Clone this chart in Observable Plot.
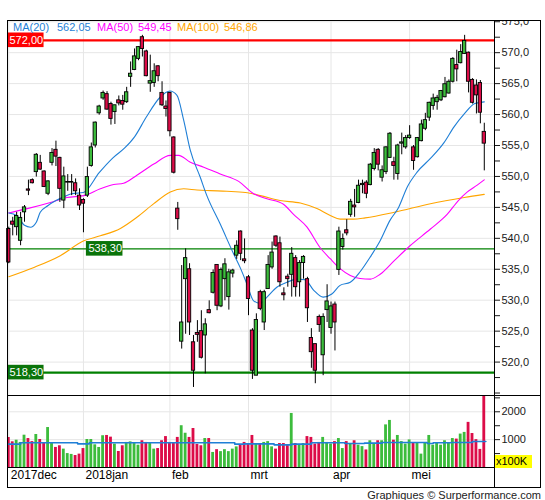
<!DOCTYPE html>
<html><head><meta charset="utf-8">
<script src="https://cdn.jsdelivr.net/npm/d3@7"></script>
<script src="https://cdn.jsdelivr.net/npm/@observablehq/plot@0.6"></script>
<style>
body{margin:0;background:#fff;}
#wrap{position:relative;width:545px;height:500px;overflow:hidden;font-family:"Liberation Sans",Arial,sans-serif;background:#fff;}
#wrap svg{position:absolute;left:0;}
.abs{position:absolute;}
</style></head><body><div id="wrap"></div>
<script>
// ---- data ----
const opens = [541.5,542.7,541.8,539.6,544.2,547.9,549.4,550.7,552.2,550.8,547.2,552.2,554.3,553.0,546.1,549.0,549.0,548.9,546.9,546.2,
546.9,551.7,555.0,560.2,562.6,563.3,561.7,560.4,562.3,562.2,562.0,566.1,567.2,569.0,572.5,570.2,565.0,565.1,567.8,563.5,
561.3,563.5,556.3,544.8,523.3,533.4,535.0,523.2,524.7,525.0,524.3,528.4,531.2,535.7,529.0,533.4,530.5,534.3,537.2,541.1,
536.6,533.7,525.1,517.8,531.3,526.4,531.8,535.3,540.3,539.2,531.1,533.8,534.1,536.8,532.9,536.0,533.4,523.9,522.9,527.3,
521.1,528.4,525.5,529.3,534.9,538.6,541.3,543.8,545.3,545.7,548.6,549.0,548.6,551.2,554.3,549.8,550.7,553.0,552.3,550.4,
555.3,554.7,556.2,554.7,553.1,555.7,557.7,559.5,561.4,562.0,562.3,562.8,563.4,565.3,568.0,568.3,569.8,570.0,565.6,564.7,
565.1,557.2];
const highs = [541.8,543.4,544.2,544.2,545.3,549.4,549.6,553.7,553.4,550.9,549.3,554.5,555.7,553.1,551.5,550.3,550.3,549.6,548.0,546.4,
551.5,555.4,558.8,561.5,563.8,563.7,562.0,561.5,563.0,563.1,564.4,568.5,570.6,571.0,572.8,570.4,569.6,568.2,567.9,565.3,
562.2,563.6,556.4,545.8,535.6,538.3,535.9,524.3,526.7,528.3,527.0,529.9,534.9,535.7,535.2,536.7,535.0,535.0,539.6,541.2,
539.9,534.0,525.4,527.8,531.6,531.6,537.2,539.4,540.4,540.2,532.0,534.2,538.5,537.2,536.4,537.2,533.7,525.4,522.9,527.6,
527.8,532.5,529.7,529.7,541.8,540.7,543.0,546.3,547.9,549.4,549.4,549.3,552.1,554.5,554.5,551.7,554.8,557.1,553.1,555.2,
557.0,556.6,558.2,555.0,556.3,559.1,560.2,562.0,563.3,563.1,563.9,566.0,565.6,569.2,570.4,571.3,572.8,570.1,565.8,565.6,
565.5,558.6];
const lows = [535.9,540.4,540.4,538.8,542.6,546.9,548.8,549.9,551.0,548.2,546.9,551.7,551.6,545.8,544.8,547.6,546.9,546.9,544.5,540.9,
546.6,551.5,554.6,559.9,562.3,560.7,558.3,558.4,561.4,560.7,561.8,564.4,567.1,568.7,569.3,566.1,563.6,564.4,565.3,561.3,
559.6,556.4,550.4,541.3,522.1,524.5,524.3,515.9,523.2,520.5,518.1,527.8,531.0,528.3,528.8,529.9,528.4,533.6,536.6,536.4,
535.9,527.5,517.2,517.8,528.3,525.1,531.8,535.0,538.5,532.1,529.9,532.1,530.5,530.5,530.5,533.4,526.4,519.0,516.5,524.8,
517.8,526.4,524.5,521.8,534.0,538.1,540.4,543.4,543.4,545.6,547.2,546.4,548.5,550.9,550.9,549.1,550.3,552.9,549.4,549.4,
553.5,554.4,556.0,551.0,553.0,555.6,557.4,558.9,560.7,560.7,562.1,562.7,563.3,565.1,565.3,568.2,569.7,563.5,561.7,560.1,
558.5,550.9];
const closes = [536.1,542.2,543.6,543.3,545.0,547.7,548.9,553.5,551.1,548.3,549.2,553.8,553.2,548.0,550.0,549.1,549.1,547.6,545.3,545.6,
549.9,554.7,558.7,561.3,563.5,560.8,559.3,561.5,561.8,561.6,563.6,566.6,569.4,570.9,570.6,566.2,565.4,567.0,566.2,561.5,
560.9,557.3,550.6,543.1,526.4,536.8,526.4,518.6,524.4,520.7,526.1,527.9,534.4,529.1,534.9,535.8,534.5,534.8,538.8,537.5,
536.3,530.2,518.6,526.8,528.6,531.3,535.7,537.7,538.8,532.9,530.8,533.4,537.5,532.1,536.0,537.0,528.7,521.6,518.6,526.0,
527.3,529.8,529.0,526.4,541.1,539.9,540.8,545.9,545.0,548.5,548.8,547.2,551.9,553.8,551.9,551.0,554.7,556.9,551.7,555.0,
555.5,556.2,556.6,552.5,556.2,558.4,559.1,561.9,562.6,562.7,563.8,564.9,565.3,569.0,567.3,570.1,571.9,565.3,561.9,563.1,
560.3,555.3];
const volumes = [1077,922,980,900,1160,1040,930,1185,1005,875,1435,860,720,780,660,500,470,430,480,680,
1005,1005,815,720,1140,1150,1090,840,575,780,900,920,860,800,960,900,860,660,680,960,
1110,900,880,1080,1500,1230,1080,1400,830,780,1040,1040,540,640,570,640,570,660,740,800,
900,840,1150,840,840,900,930,740,660,860,860,800,1940,860,800,860,1110,1080,840,900,
1080,900,840,930,1040,680,930,840,960,800,750,630,960,840,960,960,1530,1690,980,1150,
930,840,990,870,870,480,870,1150,800,870,800,960,870,1040,1020,1200,1260,1620,1220,1000,
650,2600];
// moving averages: [bar index, value]
const ma20 = [[0,544.1],[2,543.7],[4,542.1],[5.5,541.8],[7,542.6],[8,544.2],[10,545.3],[12,546.1],[14,546.7],[16,547.2],[19,547.4],
[23,550.6],[26.5,553.0],[29.5,554.6],[32,556.4],[35,559.6],[38.5,562.8],[41,563.8],[42.8,563.1],[44.5,559.1],[46.2,554.2],
[48.7,549.9],[50.4,546.9],[53.8,542.3],[57.2,537.5],[59,535.1],[60.6,532.6],[62.3,529.9],[64,529.5],[65.7,530.5],[68.2,532.1],
[70.8,532.9],[73.3,533.4],[75.4,533.3],[77.6,531.6],[80,530.5],[82.2,531.0],[84.3,532.4],[86.9,532.9],[89.4,534.6],[92,537.0],
[94.5,539.6],[97,542.9],[99.2,545.0],[101.4,548.3],[103.9,550.7],[107.3,552.9],[110.8,555.5],[113.3,558.0],[115.9,560.1],
[118.6,561.8],[121,562.05]];
const ma50 = [[0,544.1],[4.7,544.8],[10.6,545.8],[14.8,546.6],[19.1,546.9],[23.3,548.0],[26.7,548.7],[29.2,548.9],[32.6,550.2],
[36.9,552.0],[41.1,553.4],[43.2,553.4],[46.2,552.3],[49.6,551.5],[53.8,550.4],[58.5,549.2],[62.3,547.2],[65.7,546.4],[69.9,545.5],
[72.4,543.9],[75.9,541.8],[79.1,538.6],[81.8,536.7],[84.3,535.1],[86.9,534.0],[89.4,533.5],[92,533.4],[94.5,534.2],[98.1,536.4],
[102.1,538.8],[107.3,541.5],[111.6,543.9],[114.4,546.1],[116.7,547.5],[119.2,548.6],[121,549.45]];
const ma100 = [[0,533.8],[6.4,535.3],[13.1,537.2],[19.1,539.6],[23.3,540.4],[28.4,541.6],[32.6,543.4],[36.9,545.6],[41.1,547.5],
[44.5,548.0],[47.9,547.8],[51.3,547.7],[55.5,547.6],[60.2,547.4],[64,546.9],[69,546.1],[74.2,545.7],[78.4,544.8],[81.8,543.7],
[84.3,543.1],[87.7,543.1],[90.7,543.3],[98.1,544.2],[107.3,545.6],[115.9,546.6],[121,547.1]];
const volMA = [[0,838],[3,886],[17.5,850],[20.5,886],[57.5,838],[60,850],[67.5,814],[72,838],[77,886],[85.5,862],[90.5,874],
[95,898],[106.5,862],[108,886],[112.5,898],[118,934],[121.4,934]];
const monthTickIdx = [0,19,41,61,82,102];
const monthLabels = ["2017dec","2018jan","feb","mrt","apr","mei"];
const levelValues = [572, 538.3, 518.3];
const levelLabels = ["572,00","538,30","518,30"];
const levelLabelIdx = [-0.33, 19.75, -0.33];
const maNames = ["MA(20)","MA(50)","MA(100)"];
const maLast = ["562,05","549,45","546,86"];
const priceTicks = [520,525,530,535,540,545,550,555,560,565,570,575];
const priceMinorTicks = [515,517.5,522.5,527.5,532.5,537.5,542.5,547.5,552.5,557.5,562.5,567.5,572.5];
const volTicks = [1000,2000];
const volMinorTicks = [500,1500,2500];

// ---- styles ----
const GREEN = "#3cbc3c", RED = "#dc0c48";
const MA_COLORS = ["#1f7fd6","#ff00ff","#ffa500"];
const levelStyle = [{stroke:"#ff0000", box:"#ff0000", w:2.2},{stroke:"#008000", box:"#0a740a", w:1.3},{stroke:"#008000", box:"#0a740a", w:2.2}];

const candles = opens.map((o,i)=>({i, o, h:highs[i], l:lows[i], c:closes[i], v:volumes[i], up: closes[i] >= o}));
const levels = levelValues.map((v,k)=>({v, label:levelLabels[k], at:levelLabelIdx[k], ...levelStyle[k]}));
const xDomain = [-0.33, 123.6];
const fmt1 = d => d.toFixed(1).replace(".", ",");
const GRID = "#e6e6e6";
const wrap = document.getElementById("wrap");

const price = Plot.plot({
  width: 545, height: 375, marginTop: 0, marginBottom: 0, marginLeft: 7, marginRight: 51,
  x: {domain: xDomain, axis: null},
  y: {domain: [514.6, 575.2]},
  style: {overflow: "hidden", background: "transparent", fontFamily: "Liberation Sans, Arial, sans-serif", fontSize: "11px"},
  marks: [
    Plot.gridY(priceTicks, {stroke: GRID, strokeOpacity: 1}),
    Plot.gridX(monthTickIdx, {stroke: GRID, strokeOpacity: 1}),
    Plot.ruleY(levels, {y: "v", stroke: "stroke", strokeWidth: d => d.w}),
    Plot.line(ma100, {x: d => d[0], y: d => d[1], stroke: MA_COLORS[2], strokeWidth: 1.1, curve: "monotone-x"}),
    Plot.line(ma50, {x: d => d[0], y: d => d[1], stroke: MA_COLORS[1], strokeWidth: 1.1, curve: "monotone-x"}),
    Plot.line(ma20, {x: d => d[0], y: d => d[1], stroke: MA_COLORS[0], strokeWidth: 1.1, curve: "monotone-x"}),
    Plot.ruleX(candles, {x: "i", y1: "l", y2: "h", stroke: "#000", strokeWidth: 1}),
    Plot.rect(candles, {x1: d => d.i - 0.42, x2: d => d.i + 0.42, y1: "o", y2: "c", fill: d => d.up ? GREEN : RED, stroke: "#000", strokeWidth: 0.9}),
    Plot.rect(levels, {x1: "at", x2: d => d.at + 9.3, y1: d => d.v - 1.18, y2: d => d.v + 1.18, fill: "box"}),
    Plot.text(levels, {x: "at", y: "v", text: "label", fill: "#fff", textAnchor: "start", dx: 2, fontSize: 11}),
    Plot.axisY(priceTicks, {anchor: "right", tickSize: 5, tickPadding: 2, tickFormat: fmt1, color: "#1a1a1a", label: null}),
    Plot.axisY(priceMinorTicks, {anchor: "right", tickSize: 5, tickFormat: () => "", color: "#1a1a1a", label: null}),
    Plot.frame({stroke: "#000"})
  ]
});
price.style.top = "20px";
wrap.appendChild(price);

const vol = Plot.plot({
  width: 545, height: 92, marginTop: 0, marginBottom: 20, marginLeft: 7, marginRight: 51,
  x: {domain: xDomain},
  y: {domain: [0, 2585]},
  style: {overflow: "hidden", background: "transparent", fontFamily: "Liberation Sans, Arial, sans-serif", fontSize: "11px"},
  marks: [
    Plot.gridY(volTicks, {stroke: GRID, strokeOpacity: 1}),
    Plot.gridX(monthTickIdx, {stroke: GRID, strokeOpacity: 1}),
    Plot.rect(candles, {x1: d => d.i - 0.36, x2: d => d.i + 0.36, y1: 0, y2: "v", fill: d => d.up ? GREEN : RED, clip: true}),
    Plot.line(volMA, {x: d => d[0], y: d => d[1], stroke: "#1f7fd6", strokeWidth: 1.6, curve: "step-after"}),
    Plot.axisY(volTicks, {anchor: "right", tickSize: 5, tickPadding: 2, tickFormat: d => String(d), color: "#1a1a1a", label: null}),
    Plot.axisY(volMinorTicks, {anchor: "right", tickSize: 5, tickFormat: () => "", color: "#1a1a1a", label: null}),
    Plot.axisX(monthTickIdx, {anchor: "bottom", tickSize: 0, tickPadding: 3, textAnchor: "start", dx: 2, fontSize: 12, color: "#000",
      tickFormat: d => monthLabels[monthTickIdx.indexOf(d)], label: null}),
    Plot.frame({stroke: "#000"})
  ]
});
vol.style.top = "395px";
wrap.appendChild(vol);

// frame pieces outside the plot areas
function box(css, html) { const d = document.createElement("div"); d.className = "abs"; Object.assign(d.style, css); if (html) d.innerHTML = html; wrap.appendChild(d); return d; }
box({left: "7px", top: "20px", width: "534px", height: "468px", border: "1px solid #000", boxSizing: "border-box"});
box({left: "494px", top: "395px", width: "47px", height: "1px", background: "#000"});
box({left: "494px", top: "467px", width: "1px", height: "21px", background: "#000"});
box({left: "495px", top: "455px", width: "36px", height: "13px", background: "#ffff00", font: "11px 'Liberation Sans', Arial, sans-serif", lineHeight: "13px", color: "#000", paddingLeft: "1px"}, "x100K");

// legend
const legendX = [13, 57, 97, 138, 177, 224];
maNames.forEach((n, k) => {
  box({left: legendX[2*k] + "px", top: "21px", font: "11px 'Liberation Sans', Arial, sans-serif", color: MA_COLORS[k], lineHeight: "13px"}, n);
  box({left: legendX[2*k+1] + "px", top: "21px", font: "11px 'Liberation Sans', Arial, sans-serif", color: MA_COLORS[k], lineHeight: "13px"}, maLast[k]);
});
// caption
box({right: "4px", top: "489px", font: "11px 'Liberation Sans', Arial, sans-serif", color: "#222", lineHeight: "12px", whiteSpace: "nowrap"}, "Graphiques © Surperformance.com");
</script>
</body></html>
